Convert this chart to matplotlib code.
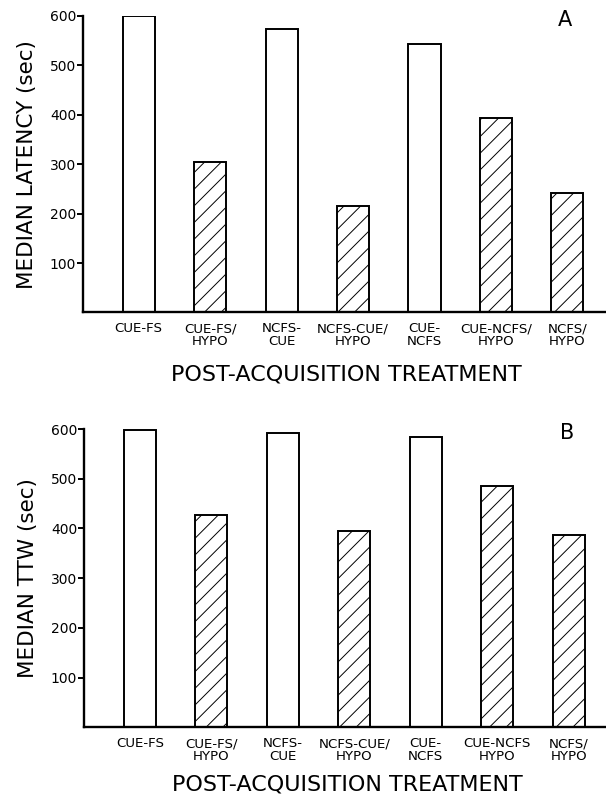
import numpy as np
import matplotlib.pyplot as plt

plt.rcParams['font.family'] = ['DejaVu Sans']
plt.rcParams['hatch.linewidth'] = 0.7

labels_a = ['CUE-FS', 'CUE-FS/\nHYPO', 'NCFS-\nCUE', 'NCFS-CUE/\nHYPO',
            'CUE-\nNCFS', 'CUE-NCFS/\nHYPO', 'NCFS/\nHYPO']
labels_b = ['CUE-FS', 'CUE-FS/\nHYPO', 'NCFS-\nCUE', 'NCFS-CUE/\nHYPO',
            'CUE-\nNCFS', 'CUE-NCFS\nHYPO', 'NCFS/\nHYPO']
hypo = [False, True, False, True, False, True, True]
latency = [600, 305, 574, 216, 544, 394, 242]
ttw = [598, 427, 593, 395, 584, 486, 386]
yticks = [100, 200, 300, 400, 500, 600]

fig = plt.figure(figsize=(6.06, 7.97), dpi=100)
ax_a = fig.add_axes([0.137, 0.608, 0.87, 0.372])
ax_b = fig.add_axes([0.139, 0.0873, 0.87, 0.3744])

def panel(ax, vals, labels, ylabel, letter, xpad):
    x = np.arange(len(vals))
    for xi, v, h in zip(x, vals, hypo):
        ax.bar(xi, v, width=0.45, color='white', edgecolor='black',
               linewidth=1.4, hatch='//' if h else None)
    ax.set_xlim(-0.78, 6.6)
    ax.set_ylim(0, 600)
    ax.set_yticks(yticks)
    ax.set_yticklabels([str(t) for t in yticks], fontsize=10)
    ax.set_xticks(x)
    ax.set_xticklabels(labels, fontsize=9.6, linespacing=1.0)
    ax.tick_params(axis='x', length=0, pad=7)
    ax.tick_params(axis='y', length=4, width=1.4, pad=1)
    for s in ['top', 'right']:
        ax.spines[s].set_visible(False)
    for s in ['left', 'bottom']:
        ax.spines[s].set_linewidth(1.7)
    ax.set_ylabel(ylabel, fontsize=15.5, labelpad=9)
    ax.set_xlabel('POST-ACQUISITION TREATMENT', fontsize=16, labelpad=xpad)
    ax.text(0.915, 1.02, letter, transform=ax.transAxes, fontsize=15,
            ha='center', va='top')

panel(ax_a, latency, labels_a, 'MEDIAN LATENCY (sec)', 'A', 12)
panel(ax_b, ttw, labels_b, 'MEDIAN TTW (sec)', 'B', 8)

fig.savefig('out.png', dpi=100)
